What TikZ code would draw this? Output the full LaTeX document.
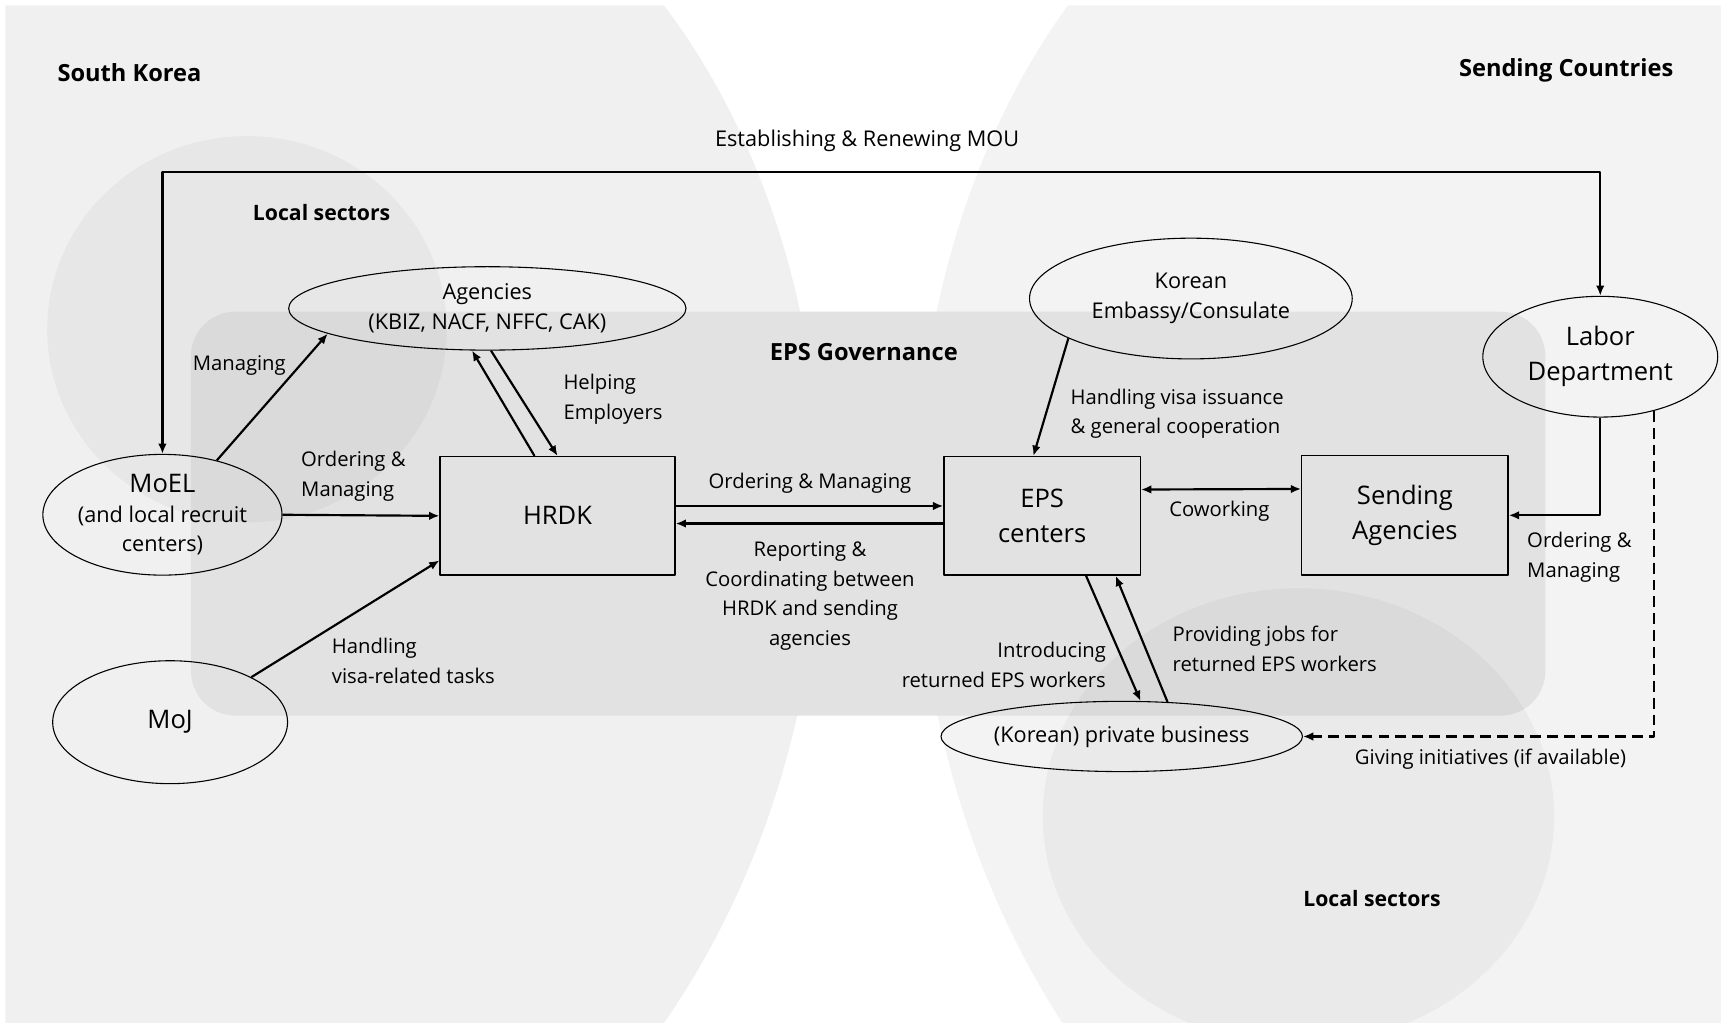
\documentclass[tikz,border=0pt]{standalone}
\usepackage{fontspec}
\setsansfont{Open Sans}
\usetikzlibrary{calc,arrows.meta,shapes.geometric}

\definecolor{leftgray}{HTML}{F0F0F0}
\definecolor{rightgray}{HTML}{F3F3F3}
\definecolor{boxgray}{HTML}{E2E2E2}

\newcommand{\labtxt}{\fontsize{8.4}{12.3}\selectfont}
\newcommand{\ovaltxt}{\fontsize{9}{12.3}\selectfont}
\newcommand{\bigtxt}{\fontsize{10.6}{14.6}\selectfont}

\begin{document}
\begin{tikzpicture}[
		x=0.16mm, y=-0.16mm,
		line join=round,
		font=\sffamily,
		>={Latex[length=1.5mm,width=1.25mm]},
		arr/.style={->, line width=0.9pt},
		dasharr/.style={->, line width=0.9pt, dash pattern=on 4.5pt off 2.5pt},
		lab/.style={font=\sffamily\labtxt, inner sep=0pt},
		head/.style={font=\sffamily\bfseries\fontsize{9.8}{12}\selectfont, inner sep=0pt},
		sector/.style={font=\sffamily\bfseries\fontsize{8.8}{12}\selectfont, inner sep=0pt},
		oval/.style={draw, ellipse, line width=0.45pt, inner sep=0pt, align=center},
		box/.style={draw, rectangle, line width=0.55pt, inner sep=0pt, align=center, font=\sffamily\bigtxt}
	]
	
	% Canvas
	\useasboundingbox (0,0) rectangle (1568,932);
	\fill[white] (0,0) rectangle (1568,932);
	
	% Countries
	\fill[leftgray] (5,5) -- (605,5) .. controls (790,250) and (800,650) .. (605,932) -- (5,932) -- cycle;
	\fill[rightgray] (1568,5) -- (973,5) .. controls (795,250) and (785,650) .. (968,932) -- (1568,932) -- cycle;
	
	% EPS governance
	\fill[boxgray, rounded corners=6.5mm] (174,284) rectangle (1408,652);
	
	% Local sectors
	\fill[black, fill opacity=0.035] (225,300) ellipse [x radius=182, y radius=176];
	\fill[black, fill opacity=0.035] (1183,744) ellipse [x radius=233, y radius=208];
	
	% Headings
	\node[head, anchor=west] (hkorea) at (52,66) {South Korea};
	\node[head, anchor=east] (hsend) at (1525,64) {Sending Countries};
	\node[sector] (hlocalk) at (293,194) {Local sectors};
	\node[head] (heps) at (787,321) {EPS Governance};
	\node[sector] (hlocals) at (1250,819) {Local sectors};
	
	% Actors
	\node[oval, minimum width=362*0.16mm, minimum height=76*0.16mm, font=\sffamily\ovaltxt] (agencies) at (444,281)
	{Agencies\\(KBIZ, NACF, NFFC, CAK)};
	\node[oval, minimum width=294*0.16mm, minimum height=110*0.16mm, font=\sffamily\ovaltxt] (embassy) at (1085,272)
	{Korean\\Embassy/Consulate};
	\node[oval, minimum width=214*0.16mm, minimum height=110*0.16mm, font=\sffamily\bigtxt] (labor) at (1458,325)
	{Labor\\Department};
	\node[oval, minimum width=214*0.16mm, minimum height=110*0.16mm, font=\sffamily\ovaltxt] (moel) at (148,469)
	{{\bigtxt MoEL}\\(and local recruit\\centers)};
	\node[oval, minimum width=214*0.16mm, minimum height=112*0.16mm, font=\sffamily\bigtxt] (moj) at (155,658) {MoJ};
	\node[oval, minimum width=318*0.16mm, minimum height=64*0.16mm, font=\sffamily\ovaltxt] (private) at (1022,671)
	{(Korean) private business};
	
	\node[box, minimum width=214*0.16mm, minimum height=108*0.16mm] (hrdk) at (508,470) {HRDK};
	\node[box, minimum width=179*0.16mm, minimum height=108*0.16mm] (epsc) at (949.5,470) {EPS\\centers};
	\node[box, minimum width=188*0.16mm, minimum height=109*0.16mm] (sending) at (1280,469.5) {Sending\\Agencies};
	
	% Flows
	\coordinate (mouy) at (790,157);
	\draw[arr, <->] (moel.north) |- (mouy) -| (labor.north);
	\draw[arr] (moel.45) -- (agencies.189);
	\draw[arr] ($(hrdk.north)+(-21,0)$) -- (agencies.250);
	\draw[arr] (agencies.275) -- (hrdk.north);
	\draw[arr] (moel.east) -- (hrdk.west);
	\draw[arr] (moj.29) -- ($(hrdk.south west)+(0,-14)$);
	\draw[arr] ($(hrdk.east)+(0,-9)$) -- ($(epsc.west)+(0,-9)$);
	\draw[arr] ($(epsc.west)+(0,7)$) -- ($(hrdk.east)+(0,7)$);
	\draw[arr] (embassy.198) -- ($(epsc.north)+(-8,0)$);
	\draw[arr, <->] ($(epsc.east)+(0,-24)$) -- ($(sending.west)+(0,-24)$);
	\draw[arr] (labor.south) |- (sending.east);
	\draw[arr] ($(epsc.south)+(40,0)$) -- (private.62);
	\draw[arr] (private.37) -- ($(epsc.south)+(67,0)$);
	\draw[dasharr] (labor.315) |- (private.east);
	
	% Flow labels
	\node[lab, font=\sffamily\ovaltxt] (lmou) at (790,128) {Establishing \& Renewing MOU};
	\node[lab] (lmanage) at (218,333) {Managing};
	\node[lab, anchor=west, align=left] (lhelp) at (513,364) {Helping\\Employers};
	\node[lab, anchor=west, align=left] (lorder) at (274,434) {Ordering \&\\Managing};
	\node[lab, anchor=west, align=left] (lvisa) at (302,602) {Handling\\visa-related tasks};
	\node[lab] (lordereps) at (738,440) {Ordering \& Managing};
	\node[lab, align=center] (lreport) at (738,543) {Reporting \&\\Coordinating between\\HRDK and sending\\agencies};
	\node[lab, anchor=west, align=left] (lissue) at (975,377) {Handling visa issuance\\\& general cooperation};
	\node[lab] (lcowork) at (1111,466) {Coworking};
	\node[lab, anchor=west, align=left] (lordersend) at (1391,508) {Ordering \&\\Managing};
	\node[lab, anchor=east, align=right] (lintro) at (1008,606) {Introducing\\returned EPS workers};
	\node[lab, anchor=west, align=left] (ljobs) at (1068,591) {Providing jobs for\\returned EPS workers};
	\node[lab] (lgive) at (1358,692) {Giving initiatives (if available)};
	
\end{tikzpicture}
\end{document}
